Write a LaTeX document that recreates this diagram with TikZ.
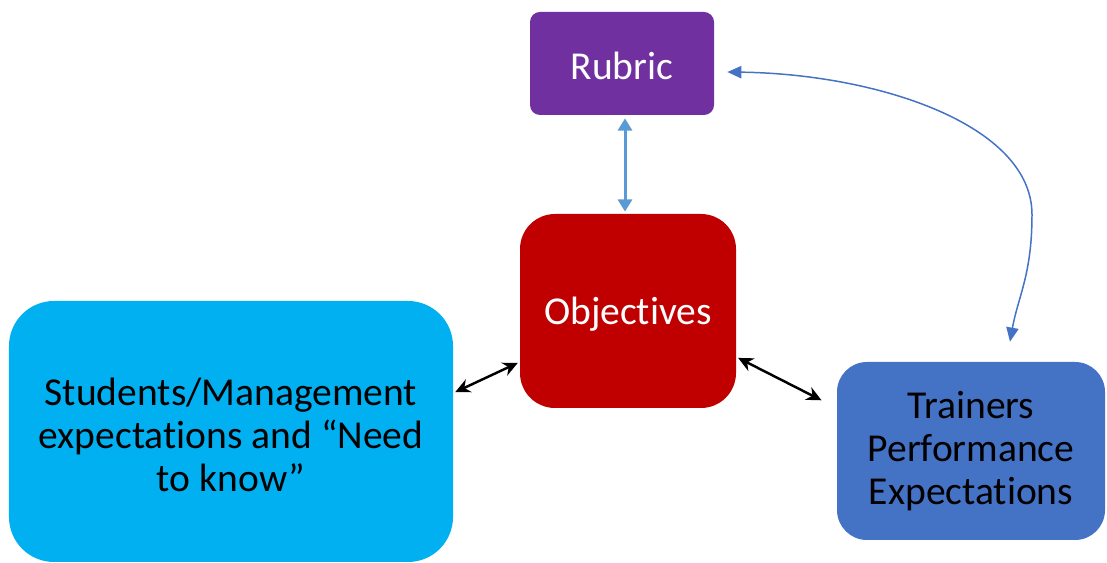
\documentclass[tikz,border=0pt]{standalone}
\usepackage{fontspec}
\setmainfont{Carlito}[Ligatures=NoCommon]
\usepackage{tikz}
\usetikzlibrary{arrows.meta}
\usepackage{xcolor}
\definecolor{rubpurple}{HTML}{7030A0}
\definecolor{objred}{HTML}{C00000}
\definecolor{stucyan}{HTML}{00B0F0}
\definecolor{trnblue}{HTML}{4472C4}
\definecolor{lnkblue}{HTML}{5B9BD5}
\tikzset{
  blk/.style  ={inner sep=0pt, align=center,
                font=\fontsize{22.5}{24.5}\selectfont},
  vlnk/.style ={{Triangle[length=7pt,width=8pt]}-{Triangle[length=7pt,width=8pt]},
                line width=1.7pt, draw=lnkblue},
  blnk/.style ={{Stealth[length=8.5pt,width=8pt]}-{Stealth[length=8.5pt,width=8pt]},
                line width=1.4pt, draw=black},
  clnk/.style ={{Triangle[length=8pt,width=7pt]}-{Triangle[length=8pt,width=7pt]},
                line width=0.85pt, draw=trnblue},
}
\begin{document}
\begin{tikzpicture}
  \useasboundingbox (0,0) rectangle (22.14,11.26);
  \node[blk, fill=rubpurple, text=white, minimum width=3.68cm,
        minimum height=2.06cm, rounded corners=0.2cm,
        text height=0.8cm, text depth=0.168cm] (rub) at (12.44,9.99)
    {Rubric};
  \node[blk, fill=objred, text=white, minimum width=4.32cm,
        minimum height=3.88cm, rounded corners=0.7cm,
        text height=0.8cm, text depth=0.24cm] (obj) at (12.56,5.04)
    {Objectives};
  \node[blk, fill=stucyan, minimum width=8.88cm,
        minimum height=5.22cm, rounded corners=0.9cm,
        text height=2.6cm, text depth=0.18cm] (stu) at (4.62,2.63)
    {Students/Management\\expectations and “Need\\to know”};
  \node[blk, fill=trnblue, minimum width=5.36cm,
        minimum height=3.56cm, rounded corners=0.6cm,
        text height=2.36cm, text depth=0.2cm] (trn) at (19.42,2.24)
    {Trainers\\Performance\\Expectations};
  % connectors
  \draw[vlnk, shorten <=0.06cm, shorten >=0.04cm]
    ([xshift=0.06cm]rub.south) -- ([xshift=-0.06cm]obj.north);
  \draw[blnk, shorten <=0.04cm, shorten >=0.04cm]
    ([yshift=0.77cm]stu.east) -- ([yshift=-1.02cm]obj.west);
  \draw[blnk, shorten <=0.04cm, shorten >=0.34cm]
    ([yshift=-0.92cm]obj.east) -- ([yshift=0.86cm]trn.west);
  \coordinate (rt) at ([xshift=0.26cm,yshift=-0.17cm]rub.east);
  \coordinate (tt) at ([xshift=0.78cm,yshift=0.4cm]trn.north);
  \coordinate (bend) at ([xshift=1.22cm,yshift=2.94cm]trn.north);
  \draw[clnk] (rt) .. controls +(3,-0.04) and +(0,1.8) .. (bend)
    .. controls +(0,-1.2) and +(0.16,0.9) .. (tt);
\end{tikzpicture}
\end{document}
